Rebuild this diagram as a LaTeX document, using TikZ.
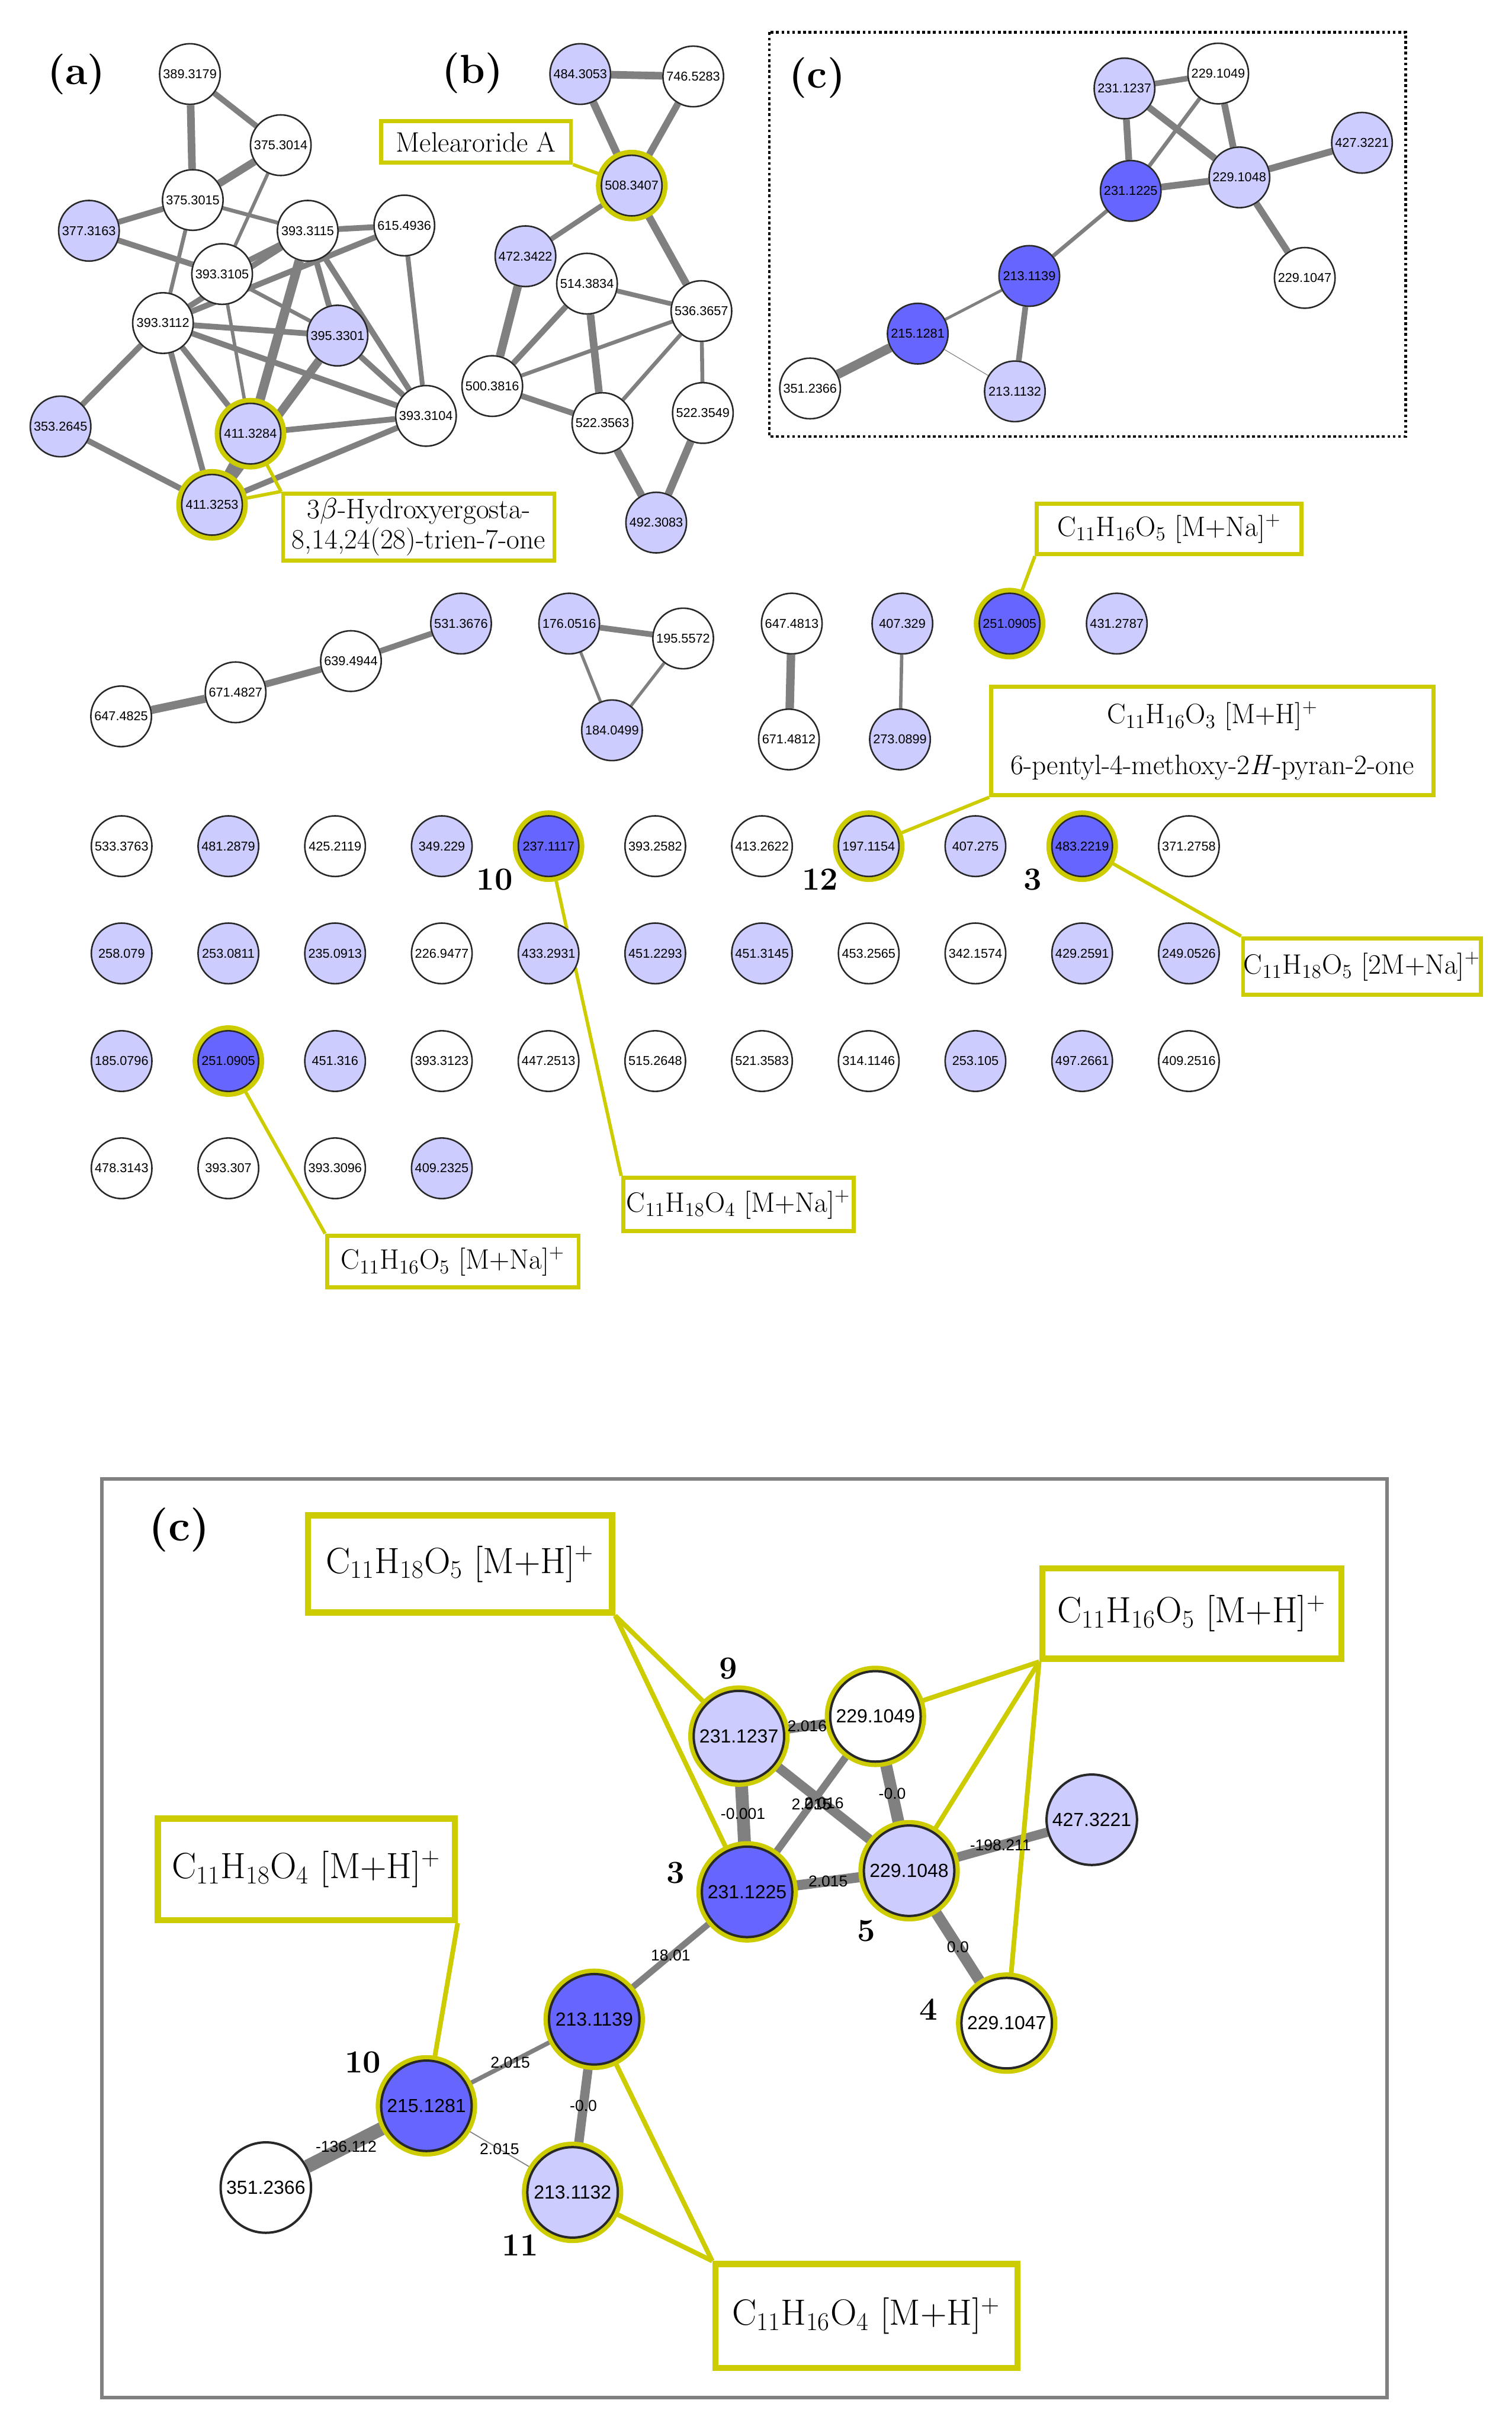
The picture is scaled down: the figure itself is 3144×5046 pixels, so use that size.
\documentclass[tikz,border=0pt]{standalone}
\usepackage{fontspec}
\setsansfont{Liberation Sans}
\usetikzlibrary{backgrounds}

\definecolor{lav}{RGB}{204,204,255}
\definecolor{dblue}{RGB}{102,102,255}
\definecolor{egray}{RGB}{128,128,128}
\definecolor{hly}{RGB}{204,204,0}
\definecolor{nborder}{RGB}{40,40,40}

\newcommand{\cform}[3]{C\textsubscript{#1}H\textsubscript{#2}O\textsubscript{#3}}

\begin{document}
\begin{tikzpicture}[x=0.01cm, y=-0.01cm,
    mz/.style={circle, draw=nborder, line width=0.9pt, minimum size=1.26cm, inner sep=0pt, font=\sffamily\fontsize{7.6}{8}\selectfont},
    wn/.style={mz, fill=white},
    ln/.style={mz, fill=lav},
    dn/.style={mz, fill=dblue},
    big/.style={minimum size=1.88cm, line width=1.4pt, font=\sffamily\fontsize{11.2}{12}\selectfont},
    hl/.style={preaction={draw=hly, line width=6.5pt}},
    link/.style={draw=egray, line width=#1},
    lead/.style={draw=hly, line width=2pt},
    biglead/.style={draw=hly, line width=2.8pt},
    tag/.style={draw=hly, line width=2.4pt, fill=white, inner sep=0pt, align=center, font=\fontsize{16.6}{18}\selectfont},
    bigtag/.style={draw=hly, line width=3.6pt, fill=white, inner sep=0pt, font=\fontsize{21.6}{25}\selectfont},
    panel/.style={font=\bfseries\fontsize{24}{28}\selectfont},
    num/.style={font=\bfseries\fontsize{19}{22}\selectfont},
    elab/.style={font=\sffamily\fontsize{9.3}{10}\selectfont}]

\useasboundingbox (0,0) rectangle (3144,5046);

% Panel letters
\node[panel] (pa) at (159,155) {(a)};
\node[panel] (pb) at (983,152) {(b)};
\node[panel] (pc) at (1700,162) {(c)};

% (a) cluster
\node[wn] (a389) at (395,154) {389.3179};
\node[wn] (a3750) at (584,302) {375.3014};
\node[wn] (a3751) at (401,416) {375.3015};
\node[ln] (a377) at (185,480) {377.3163};
\node[wn] (a3105) at (462,570) {393.3105};
\node[wn] (a3115) at (640,480) {393.3115};
\node[wn] (a615) at (841,469) {615.4936};
\node[wn] (a3112) at (339,672) {393.3112};
\node[ln] (a395) at (702,698) {395.3301};
\node[ln] (a353) at (126,887) {353.2645};
\node[ln, hl] (a3284) at (521,902) {411.3284};
\node[wn] (a3104) at (886,865) {393.3104};
\node[ln, hl] (a3253) at (441,1050) {411.3253};

% (b) cluster
\node[ln] (b484) at (1207,154) {484.3053};
\node[wn] (b746) at (1442,159) {746.5283};
\node[ln, hl] (b508) at (1314,386) {508.3407};
\node[ln] (b472) at (1093,533) {472.3422};
\node[wn] (b514) at (1221,590) {514.3834};
\node[wn] (b536) at (1459,647) {536.3657};
\node[wn] (b500) at (1024,803) {500.3816};
\node[wn] (b5563) at (1253,880) {522.3563};
\node[wn] (b5549) at (1462,859) {522.3549};
\node[ln] (b492) at (1365,1087) {492.3083};

% (c) cluster, small
\draw[line width=1.6pt, dash pattern=on 1.6pt off 1.6pt] (1600,67) rectangle (2924,908);
\node[ln] (c2312) at (2339,184) {231.1237};
\node[wn] (c2291) at (2534,153) {229.1049};
\node[ln] (c427) at (2833,297) {427.3221};
\node[ln] (c2290) at (2578,369) {229.1048};
\node[dn] (c2311) at (2352,397) {231.1225};
\node[dn] (c2131) at (2141,574) {213.1139};
\node[wn] (c2289) at (2714,578) {229.1047};
\node[dn] (c215) at (1909,694) {215.1281};
\node[wn] (c351) at (1685,808) {351.2366};
\node[ln] (c2130) at (2111,814) {213.1132};

% small groups
\node[wn] (s647a) at (252,1490) {647.4825};
\node[wn] (s671a) at (490,1440) {671.4827};
\node[wn] (s639) at (730,1375) {639.4944};
\node[ln] (s531) at (959,1297) {531.3676};
\node[ln] (s176) at (1184,1297) {176.0516};
\node[wn] (s195) at (1421,1328) {195.5572};
\node[ln] (s184) at (1273,1519) {184.0499};
\node[wn] (s647b) at (1647,1297) {647.4813};
\node[wn] (s671b) at (1641,1538) {671.4812};
\node[ln] (s407) at (1877,1297) {407.329};
\node[ln] (s273) at (1872,1538) {273.0899};
\node[dn, hl] (s251) at (2100,1297) {251.0905};
\node[ln] (s431) at (2323,1297) {431.2787};

% singletons
\node[wn] (ga1) at (253,1760) {533.3763};
\node[ln] (ga2) at (475,1760) {481.2879};
\node[wn] (ga3) at (697,1760) {425.2119};
\node[ln] (ga4) at (919,1760) {349.229};
\node[dn, hl] (ga5) at (1141,1760) {237.1117};
\node[wn] (ga6) at (1363,1760) {393.2582};
\node[wn] (ga7) at (1585,1760) {413.2622};
\node[ln, hl] (ga8) at (1807,1760) {197.1154};
\node[ln] (ga9) at (2029,1760) {407.275};
\node[dn, hl] (ga10) at (2251,1760) {483.2219};
\node[wn] (ga11) at (2473,1760) {371.2758};

\node[ln] (gb1) at (253,1983) {258.079};
\node[ln] (gb2) at (475,1983) {253.0811};
\node[ln] (gb3) at (697,1983) {235.0913};
\node[wn] (gb4) at (919,1983) {226.9477};
\node[ln] (gb5) at (1141,1983) {433.2931};
\node[ln] (gb6) at (1363,1983) {451.2293};
\node[ln] (gb7) at (1585,1983) {451.3145};
\node[wn] (gb8) at (1807,1983) {453.2565};
\node[wn] (gb9) at (2029,1983) {342.1574};
\node[ln] (gb10) at (2251,1983) {429.2591};
\node[ln] (gb11) at (2473,1983) {249.0526};

\node[ln] (gc1) at (253,2207) {185.0796};
\node[dn, hl] (gc2) at (475,2207) {251.0905};
\node[ln] (gc3) at (697,2207) {451.316};
\node[wn] (gc4) at (919,2207) {393.3123};
\node[wn] (gc5) at (1141,2207) {447.2513};
\node[wn] (gc6) at (1363,2207) {515.2648};
\node[wn] (gc7) at (1585,2207) {521.3583};
\node[wn] (gc8) at (1807,2207) {314.1146};
\node[ln] (gc9) at (2029,2207) {253.105};
\node[ln] (gc10) at (2251,2207) {497.2661};
\node[wn] (gc11) at (2473,2207) {409.2516};

\node[wn] (gd1) at (253,2430) {478.3143};
\node[wn] (gd2) at (475,2430) {393.307};
\node[wn] (gd3) at (697,2430) {393.3096};
\node[ln] (gd4) at (919,2430) {409.2325};

\node[num] (t10) at (1029,1829) {10};
\node[num] (t12) at (1706,1829) {12};
\node[num] (t3) at (2148,1829) {3};

% annotation boxes, top
\node[tag, minimum width=3.95cm, minimum height=0.86cm] (xMel) at (990,295) {Melearoride A};
\node[tag, minimum width=5.64cm, minimum height=1.39cm] (xHyd) at (871,1096) {3$\beta$-Hydroxyergosta-\\8,14,24(28)-trien-7-one};
\node[tag, minimum width=5.5cm, minimum height=1.05cm] (xNa1) at (2432,1100) {\cform{11}{16}{5} [M+Na]\textsuperscript{+}};
\node[tag, minimum width=9.2cm, minimum height=2.26cm] (xPyr) at (2522,1541) {\cform{11}{16}{3} [M+H]\textsuperscript{+}\\[12pt]6-pentyl-4-methoxy-2\textit{H}-pyran-2-one};
\node[tag, minimum width=4.94cm, minimum height=1.17cm] (x2M) at (2833,2010) {\cform{11}{18}{5} [2M+Na]\textsuperscript{+}};
\node[tag, minimum width=4.79cm, minimum height=1.1cm] (xNa18) at (1536,2505) {\cform{11}{18}{4} [M+Na]\textsuperscript{+}};
\node[tag, minimum width=5.23cm, minimum height=1.08cm] (xNa2) at (942,2624) {\cform{11}{16}{5} [M+Na]\textsuperscript{+}};

% large (c) panel
\draw[egray, line width=2.2pt] (212,3076) rectangle (2885,4987);
\node[panel, font=\bfseries\fontsize{26}{30}\selectfont] (pc2) at (373,3182) {(c)};

\node[ln, big, hl] (L2312) at (1537,3611) {231.1237};
\node[wn, big, hl] (L2291) at (1821,3570) {229.1049};
\node[ln, big] (L427) at (2271,3785) {427.3221};
\node[ln, big, hl] (L2290) at (1891,3891) {229.1048};
\node[dn, big, hl] (L2311) at (1554,3935) {231.1225};
\node[dn, big, hl] (L2131) at (1236,4200) {213.1139};
\node[wn, big, hl] (L2289) at (2094,4208) {229.1047};
\node[dn, big, hl] (L215) at (887,4380) {215.1281};
\node[wn, big] (L351) at (553,4550) {351.2366};
\node[ln, big, hl] (L2130) at (1191,4560) {213.1132};

\node[num] (m9) at (1515,3470) {9};
\node[num] (m3) at (1405,3895) {3};
\node[num] (m5) at (1802,4016) {5};
\node[num] (m4) at (1931,4179) {4};
\node[num] (m10) at (755,4290) {10};
\node[num] (m11) at (1082,4670) {11};

\node[bigtag, minimum width=6.32cm, minimum height=2.02cm] (y18O5) at (957,3253) {\cform{11}{18}{5} [M+H]\textsuperscript{+}};
\node[bigtag, minimum width=6.22cm, minimum height=1.88cm] (y16O5) at (2479,3356) {\cform{11}{16}{5} [M+H]\textsuperscript{+}};
\node[bigtag, minimum width=6.17cm, minimum height=2.11cm] (y18O4) at (637,3888) {\cform{11}{18}{4} [M+H]\textsuperscript{+}};
\node[bigtag, minimum width=6.28cm, minimum height=2.16cm] (y16O4) at (1802,4817) {\cform{11}{16}{4} [M+H]\textsuperscript{+}};

% edge labels
\path (L2312) -- node[elab] (e1) {2.016} (L2291);
\path (L2312) -- node[elab] (e2) {-0.001} (L2311);
\path (L2312) -- node[elab] (e3) {2.016} (L2290);
\path (L2291) -- node[elab] (e4) {2.015} (L2311);
\path (L2291) -- node[elab] (e5) {-0.0} (L2290);
\path (L2311) -- node[elab] (e6) {2.015} (L2290);
\path (L2290) -- node[elab] (e7) {-198.211} (L427);
\path (L2290) -- node[elab] (e8) {0.0} (L2289);
\path (L2131) -- node[elab] (e9) {18.01} (L2311);
\path (L215) -- node[elab] (e10) {2.015} (L2131);
\path (L215) -- node[elab] (e11) {2.015} (L2130);
\path (L2131) -- node[elab] (e12) {-0.0} (L2130);
\path (L351) -- node[elab] (e13) {-136.112} (L215);

\begin{scope}[on background layer]
% (a) links
\draw[link=4.5pt] (a389) -- (a3751);
\draw[link=3.4pt] (a389) -- (a3750);
\draw[link=4.5pt] (a3750) -- (a3751);
\draw[link=2pt] (a3750) -- (a3105);
\draw[link=3.4pt] (a3751) -- (a377);
\draw[link=2.3pt] (a3751) -- (a3115);
\draw[link=2.3pt] (a3751) -- (a3112);
\draw[link=3.4pt] (a377) -- (a3105);
\draw[link=3.4pt] (a3105) -- (a3115);
\draw[link=2.3pt] (a3105) -- (a395);
\draw[link=2pt] (a3105) -- (a3284);
\draw[link=3.4pt] (a3112) -- (a615);
\draw[link=3.4pt] (a3112) -- (a3115);
\draw[link=3.4pt] (a3115) -- (a615);
\draw[link=3.4pt] (a3112) -- (a395);
\draw[link=3.4pt] (a3112) -- (a3104);
\draw[link=3.4pt] (a3112) -- (a3284);
\draw[link=3.4pt] (a3112) -- (a3253);
\draw[link=3.4pt] (a3112) -- (a353);
\draw[link=5.5pt] (a3115) -- (a3284);
\draw[link=3.4pt] (a3115) -- (a395);
\draw[link=3.4pt] (a3115) -- (a3104);
\draw[link=2.8pt] (a615) -- (a3104);
\draw[link=3.4pt] (a395) -- (a3104);
\draw[link=5pt] (a395) -- (a3253);
\draw[link=3.4pt] (a3284) -- (a3104);
\draw[link=3.4pt] (a3253) -- (a3104);
\draw[link=3.4pt] (a3253) -- (a353);
\draw[link=5.5pt] (a3284) -- (a3253);

% (b) links
\draw[link=4.5pt] (b484) -- (b746);
\draw[link=4.5pt] (b484) -- (b508);
\draw[link=4pt] (b746) -- (b508);
\draw[link=3pt] (b508) -- (b472);
\draw[link=4.5pt] (b508) -- (b536);
\draw[link=5pt] (b472) -- (b500);
\draw[link=3.4pt] (b514) -- (b500);
\draw[link=4.5pt] (b514) -- (b5563);
\draw[link=2.8pt] (b514) -- (b536);
\draw[link=2.3pt] (b500) -- (b536);
\draw[link=3.4pt] (b500) -- (b5563);
\draw[link=2.3pt] (b536) -- (b5563);
\draw[link=2.3pt] (b536) -- (b5549);
\draw[link=4.5pt] (b5563) -- (b492);
\draw[link=4.5pt] (b5549) -- (b492);

% (c) links, small
\draw[link=3.3pt] (c2312) -- (c2291);
\draw[link=4pt] (c2312) -- (c2311);
\draw[link=4pt] (c2312) -- (c2290);
\draw[link=2.3pt] (c2291) -- (c2311);
\draw[link=4pt] (c2291) -- (c2290);
\draw[link=4pt] (c2311) -- (c2290);
\draw[link=4pt] (c2290) -- (c427);
\draw[link=4pt] (c2290) -- (c2289);
\draw[link=2.3pt] (c2311) -- (c2131);
\draw[link=1.7pt] (c215) -- (c2131);
\draw[link=0.4pt] (c215) -- (c2130);
\draw[link=3.4pt] (c2131) -- (c2130);
\draw[link=5.5pt] (c351) -- (c215);

% small groups
\draw[link=4.8pt] (s647a) -- (s671a);
\draw[link=4pt] (s671a) -- (s639);
\draw[link=3.4pt] (s639) -- (s531);
\draw[link=3.4pt] (s176) -- (s195);
\draw[link=1.8pt] (s176) -- (s184);
\draw[link=1.8pt] (s195) -- (s184);
\draw[link=5pt] (s647b) -- (s671b);
\draw[link=2pt] (s407) -- (s273);

% large (c) links
\draw[link=5.4pt] (L2312) -- (L2291);
\draw[link=7.6pt] (L2312) -- (L2311);
\draw[link=5.7pt] (L2312) -- (L2290);
\draw[link=4.3pt] (L2291) -- (L2311);
\draw[link=7pt] (L2291) -- (L2290);
\draw[link=6pt] (L2311) -- (L2290);
\draw[link=5.5pt] (L2290) -- (L427);
\draw[link=6.5pt] (L2290) -- (L2289);
\draw[link=3.7pt] (L2131) -- (L2311);
\draw[link=2.6pt] (L215) -- (L2131);
\draw[link=0.6pt] (L215) -- (L2130);
\draw[link=5.5pt] (L2131) -- (L2130);
\draw[link=8pt] (L351) -- (L215);

% leaders
\draw[lead] (xMel.south east) -- (b508);
\draw[lead] (xHyd.north west) -- (a3284);
\draw[lead] (xHyd.north west) -- (a3253);
\draw[lead] (xNa1.south west) -- (s251);
\draw[lead] (xPyr.south west) -- (ga8);
\draw[lead] (x2M.north west) -- (ga10);
\draw[lead] (xNa18.north west) -- (ga5);
\draw[lead] (xNa2.north west) -- (gc2);
\draw[biglead] (y18O5.south east) -- (L2312);
\draw[biglead] (y18O5.south east) -- (L2311);
\draw[biglead] (y16O5.south west) -- (L2291);
\draw[biglead] (y16O5.south west) -- (L2290);
\draw[biglead] (y16O5.south west) -- (L2289);
\draw[biglead] (y18O4.south east) -- (L215);
\draw[biglead] (y16O4.north west) -- (L2131);
\draw[biglead] (y16O4.north west) -- (L2130);
\end{scope}
\end{tikzpicture}
\end{document}
